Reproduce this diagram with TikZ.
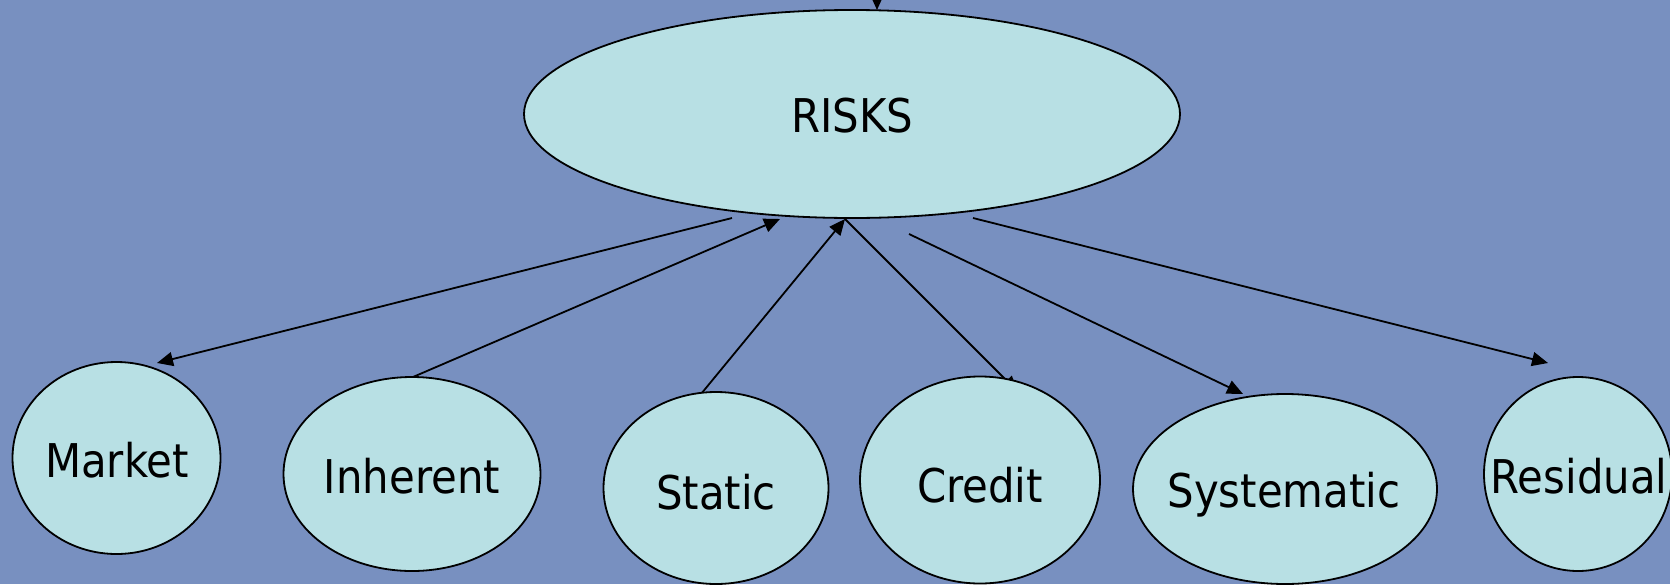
\documentclass[tikz,border=0pt]{standalone}
\usepackage{fontspec}
\setmainfont{DejaVu Sans}[FakeStretch=0.9]
\usetikzlibrary{shapes.geometric,arrows.meta,calc}
\definecolor{bgblue}{RGB}{120,144,192}
\definecolor{bubfill}{RGB}{184,224,228}
\pgfdeclarelayer{back}
\pgfsetlayers{back,main}
\begin{document}
\begin{tikzpicture}[x=1pt,y=-1pt,
  bub/.style={ellipse,draw=black,line width=1.8pt,fill=bubfill,inner sep=0pt},
  lbl/.style={anchor=base,font=\fontsize{46.5}{50}\selectfont,inner sep=0pt},
  arr/.style={line width=1.8pt,-{Triangle[length=16pt,width=14pt]}}]
\useasboundingbox (0,0) rectangle (1670,584);
\clip (0,0) rectangle (1670,584);
\begin{pgfonlayer}{back}
\fill[bgblue] (0,0) rectangle (1670,584);
\end{pgfonlayer}
% ellipses
\node[bub,minimum width=656pt,minimum height=208pt] (risks) at (852,114) {};
\node[bub,minimum width=208pt,minimum height=192pt] (mk) at (116.5,458) {};
\node[bub,minimum width=257pt,minimum height=194pt] (inh) at (412,474) {};
\node[bub,minimum width=225pt,minimum height=192pt] (sta) at (716,488) {};
\node[bub,minimum width=240pt,minimum height=207pt] (cre) at (980,480) {};
\node[bub,minimum width=304pt,minimum height=190pt] (sys) at (1285,489) {};
\node[bub,minimum width=188pt,minimum height=194pt] (res) at (1578,474) {};
% labels
\node[lbl] (risks-t) at (852,132) {RISKS};
\node[lbl] (mk-t) at (117,477) {Market};
\node[lbl] (inh-t) at (412,493) {Inherent};
\node[lbl] (sta-t) at (716,509) {Static};
\node[lbl] (cre-t) at (980,502) {Credit};
\node[lbl] (sys-t) at (1284,507) {Systematic};
\node[lbl] (res-t) at (1579,493) {Residual};
% connectors
\coordinate (topin) at (877,-12);
\begin{pgfonlayer}{back}
\draw[arr] (topin) -- ($(risks)+(25,-104)$);
\draw[arr] ($(risks)+(-120,104)$) -- ($(mk)+(40.5,-95)$);
\draw[arr] ($(inh)+(1,-97)$) -- ($(risks)+(-72,105)$);
\draw[arr] ($(sta)+(-15,-94)$) -- ($(risks)+(-7,105)$);
\draw[arr] ($(risks)+(-7,105)$) -- ($(cre)+(38,-88)$);
\draw[arr] ($(risks)+(57,120)$) -- ($(sys)+(-42,-95)$);
\draw[arr] ($(risks)+(121,104)$) -- ($(res)+(-30,-111)$);
\end{pgfonlayer}
\end{tikzpicture}
\end{document}
